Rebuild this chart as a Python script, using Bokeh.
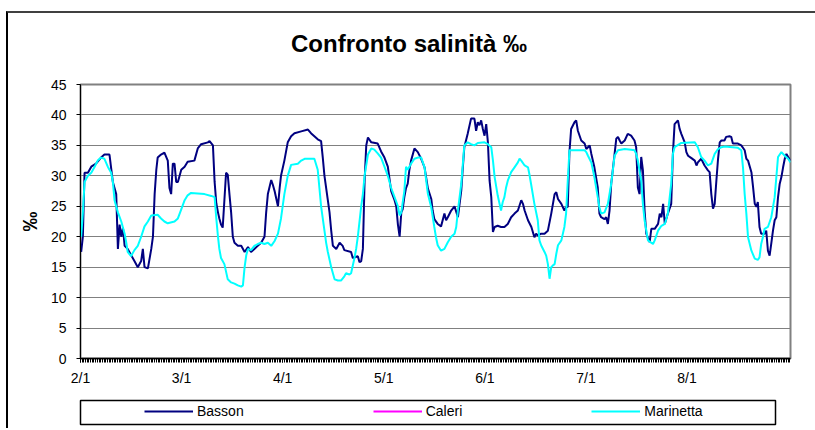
from bokeh.plotting import figure
from bokeh.layouts import column
from bokeh.models import Range1d, FixedTicker, Legend, LegendItem, Div
from bokeh.embed import file_html
from bokeh.resources import INLINE

# ---- data (x = days since 2/1) ----
basson_day = [0.2, 0.7, 1.2, 2.2, 3.2, 4.6, 6.1, 7.1, 8.6, 9.6, 10.6, 11.1, 11.6, 12.1, 12.6, 13.1,
              14.0, 15.0, 16.0, 17.0, 18.0, 18.5, 19.0, 20.0, 21.0, 21.5, 22.0, 22.5, 22.9, 23.9,
              24.9, 25.9, 26.4, 26.9, 27.4, 27.9, 28.4, 28.9, 29.9, 30.9, 31.8, 33.8, 34.8, 35.8,
              37.8, 38.3, 39.3, 39.8, 40.3, 40.8, 41.2, 41.7, 42.2, 42.7, 43.2, 43.7, 44.2, 44.7,
              45.2, 45.7, 46.7, 47.7, 48.7, 49.7, 50.6, 51.6, 52.6, 53.6, 54.6, 55.1, 55.6, 56.6,
              57.1, 57.6, 58.6, 59.1, 59.5, 60.5, 61.5, 62.5, 63.5, 65.5, 67.5, 68.4, 69.4, 70.4,
              71.4, 71.9, 72.4, 73.4, 73.9, 74.4, 74.9, 75.9, 76.9, 77.8, 78.3, 80.3, 80.8, 82.3,
              82.8, 83.3, 83.8, 84.3, 84.8, 85.3, 86.3, 88.2, 89.2, 90.2, 91.2, 92.2, 93.2, 93.7,
              94.2, 94.7, 95.2, 95.6, 96.1, 96.6, 97.1, 97.6, 98.1, 99.1, 100.1, 101.1, 102.1,
              103.1, 104.1, 104.5, 105.0, 106.0, 107.0, 108.0, 108.5, 109.0, 110.0, 111.0, 112.0,
              112.5, 113.0, 113.4, 113.9, 114.9, 115.9, 116.9, 117.4, 117.9, 118.4, 118.9, 119.4,
              119.9, 120.4, 120.9, 121.4, 121.9, 122.4, 122.9, 123.8, 124.8, 125.8, 126.8, 127.8,
              128.8, 129.8, 130.8, 131.3, 131.8, 132.8, 133.8, 134.7, 135.2, 135.7, 136.7, 137.7,
              138.7, 139.7, 140.7, 141.2, 141.7, 142.7, 143.6, 144.1, 144.6, 145.1, 145.6, 146.6,
              147.1, 147.6, 148.6, 149.6, 150.1, 150.6, 151.1, 151.6, 152.5, 153.5, 154.0, 154.5,
              155.5, 156.0, 156.5, 157.0, 157.5, 158.5, 159.0, 159.5, 160.0, 160.5, 161.5, 162.4,
              163.4, 164.4, 164.9, 165.4, 165.9, 166.4, 166.9, 167.4, 167.9, 168.9, 169.4, 170.4,
              171.4, 171.9, 172.4, 172.9, 173.4, 174.3, 175.3, 175.8, 176.3, 177.3, 177.8, 178.3,
              179.3, 179.8, 180.3, 181.3, 182.3, 182.8, 183.2, 184.2, 185.2, 186.2, 186.7, 187.2,
              187.7, 188.2, 188.7, 189.2, 189.7, 190.2, 191.1, 191.6, 192.6, 193.1, 193.6, 195.1,
              196.1, 197.1, 197.6, 198.1, 199.1, 199.6, 200.1, 200.6, 201.0, 201.5, 202.0, 203.0,
              203.5, 204.0, 204.5, 205.0, 205.5, 206.0, 206.5, 207.0, 207.5, 208.0, 208.5, 209.0,
              209.5, 210.0, 210.7]
basson = [17.5, 20.0, 30.5, 30.5, 31.5, 32.0, 33.0, 33.5, 33.5, 29.0, 27.0, 18.0, 22.0, 20.0, 21.5, 18.5,
          18.0, 17.0, 16.0, 15.0, 16.0, 18.0, 15.0, 14.8, 18.0, 20.0, 27.0, 31.0, 33.0, 33.5,
          33.8, 32.5, 28.0, 27.0, 32.0, 32.0, 29.0, 29.0, 31.0, 31.5, 32.3, 32.5, 34.5, 35.2,
          35.5, 35.7, 35.0, 29.0, 25.5, 24.0, 23.0, 22.0, 21.5, 26.0, 30.5, 30.2, 27.0, 24.0,
          20.0, 19.0, 18.5, 18.5, 17.5, 18.3, 17.5, 18.0, 18.5, 19.0, 20.0, 24.0, 27.0, 29.3,
          28.5, 27.5, 25.0, 28.0, 30.0, 32.5, 35.5, 36.5, 37.0, 37.3, 37.6, 37.0, 36.5, 36.0,
          35.7, 33.0, 30.0, 26.0, 24.0, 21.0, 18.5, 18.0, 19.0, 18.5, 17.8, 17.5, 16.5, 16.8,
          15.8, 16.0, 18.0, 29.0, 35.0, 36.3, 35.5, 35.3, 34.0, 33.0, 31.5, 27.5, 26.0, 25.0,
          22.0, 20.0, 24.0, 24.5, 26.5, 28.0, 28.7, 31.0, 32.5, 34.5, 33.9, 32.8, 31.4,
          27.9, 26.2, 24.3, 22.9, 22.1, 21.7, 23.8, 22.7, 23.2, 24.3, 25.0, 23.2,
          25.4, 27.6, 30.9, 34.7, 36.9, 39.4, 39.4, 37.4, 38.8, 38.3, 39.1, 37.7,
          36.6, 38.5, 35.5, 29.2, 26.5, 20.8, 21.6, 21.8, 21.6, 21.6, 22.1, 23.2,
          23.8, 24.3, 26.0, 25.4, 24.3, 22.7, 21.6, 19.9, 20.5, 20.2, 20.5, 20.5,
          21.0, 23.8, 27.0, 27.3, 26.2, 25.4, 24.3, 24.9, 24.9, 33.9, 37.7, 38.8,
          39.1, 37.4, 35.8, 35.3, 34.4, 34.7, 35.0, 33.6, 31.4, 28.1, 23.8, 23.2,
          22.9, 23.2, 22.1, 24.3, 28.7, 33.6, 36.1, 36.4, 35.8, 35.3, 35.8, 36.9,
          36.6, 35.8, 34.7, 28.1, 27.0, 33.1, 30.9, 24.3, 20.5, 19.1, 21.3, 21.3,
          22.1, 23.8, 23.2, 25.4, 22.1, 23.8, 25.4, 33.6, 38.5, 39.1, 37.7, 36.9,
          35.5, 33.9, 33.3, 32.9, 32.5, 31.7, 32.2, 32.8, 31.7, 30.9, 30.6, 27.0,
          24.6, 25.4, 29.2, 32.8, 35.5, 35.8, 35.8, 36.4, 36.5, 36.4, 35.3, 35.3,
          35.0, 34.2, 32.8, 32.5, 30.6, 28.1, 25.4, 24.9, 25.7, 21.6, 20.5, 20.5,
          21.0, 17.7, 16.9, 18.9, 21.0, 22.7, 23.2, 26.5, 28.7, 29.8, 31.4, 32.8,
          33.6, 33.1, 32.5]

# Caleri has no readings in the chart (legend entry only)
caleri_day = [0.0]
caleri = [float("nan")]

marinetta_day = [0.2, 0.7, 1.2, 2.2, 3.2, 4.2, 5.1, 6.1, 7.1, 8.1, 9.1, 9.6, 10.1, 11.1, 12.1, 13.1,
                 13.6, 14.0, 15.0, 16.0, 17.0, 18.0, 19.0, 20.0, 21.0, 22.9, 23.9, 24.9, 25.9, 27.9,
                 28.9, 29.9, 30.9, 31.8, 32.8, 36.8, 38.8, 39.8, 40.3, 40.8, 41.2, 41.7, 42.7, 43.7,
                 44.7, 45.7, 46.7, 47.7, 48.2, 48.7, 49.2, 49.7, 50.6, 51.6, 52.6, 53.6, 54.6, 55.6,
                 56.6, 57.6, 58.6, 59.5, 60.5, 61.5, 62.5, 64.5, 65.5, 66.5, 69.4, 70.4, 70.9, 71.4,
                 72.4, 72.9, 73.4, 74.4, 75.4, 76.4, 77.3, 78.3, 78.8, 79.8, 80.3, 81.3, 81.8, 82.3,
                 83.3, 83.8, 84.3, 85.3, 86.3, 87.2, 88.2, 89.2, 90.2, 91.2, 92.2, 93.2, 94.2, 94.7,
                 95.2, 96.1, 96.6, 97.1, 98.1, 99.1, 100.1, 101.1, 102.1, 103.1, 104.1, 105.0,
                 105.5, 106.0, 107.0, 108.0, 109.0, 110.0, 111.0, 111.5, 112.0, 113.0, 113.9,
                 114.9, 115.9, 116.9, 117.9, 119.9, 120.9, 121.9, 122.4, 122.9, 123.8, 124.8,
                 125.3, 125.8, 126.3, 126.8, 127.8, 128.8, 129.8, 130.3, 130.8, 131.8, 132.8,
                 133.2, 133.7, 134.7, 135.7, 136.2, 136.7, 137.7, 138.2, 138.7, 139.2, 139.7,
                 140.2, 140.7, 141.2, 141.7, 142.7, 143.6, 144.1, 144.6, 145.1, 149.6, 150.1,
                 150.6, 151.6, 152.5, 153.5, 154.0, 154.5, 155.5, 156.5, 157.5, 158.5, 159.5,
                 161.5, 163.4, 164.4, 164.9, 165.4, 166.4, 166.9, 167.4, 168.4, 169.9, 170.4,
                 171.4, 172.4, 173.4, 174.3, 175.3, 175.8, 176.3, 178.3, 182.3, 183.2, 184.2,
                 185.2, 186.2, 187.2, 188.2, 189.2, 190.2, 191.1, 195.1, 196.1, 196.6, 197.1,
                 197.6, 198.1, 199.1, 200.1, 201.0, 201.5, 202.0, 202.5, 203.0, 204.0, 205.0,
                 206.0, 207.0, 208.0, 209.0, 210.0, 210.7]
marinetta = [20.0, 24.0, 29.0, 30.0, 30.5, 31.5, 32.5, 33.0, 32.8, 31.5, 30.5, 29.0, 26.0, 24.0, 22.5, 20.5,
             19.0, 17.5, 16.8, 17.8, 18.5, 20.0, 21.7, 22.5, 23.5, 23.6, 23.0, 22.5, 22.2, 22.5,
             23.0, 24.5, 26.0, 26.8, 27.2, 27.0, 26.7, 26.5, 23.0, 20.0, 18.0, 16.5, 15.5, 13.0,
             12.5, 12.3, 12.0, 11.8, 12.0, 15.0, 17.0, 18.0, 17.8, 18.5, 18.8, 19.0, 18.8, 19.0,
             18.5, 19.3, 20.5, 23.0, 27.0, 30.0, 31.8, 32.0, 32.5, 32.8, 32.8, 31.0, 28.0, 25.0,
             21.0, 19.0, 17.5, 15.0, 13.0, 12.8, 12.8, 13.5, 14.0, 13.8, 14.0, 16.5, 18.0, 20.0,
             25.0, 27.0, 30.0, 33.5, 34.5, 34.3, 33.7, 33.0, 31.5, 30.0, 28.0, 26.5, 25.0, 23.5,
             24.0, 27.5, 31.5, 31.0, 32.0, 32.8, 33.0, 33.0, 31.4, 27.0, 24.8, 21.6,
             19.9, 18.6, 17.7, 18.0, 19.1, 20.0, 20.5, 21.6, 24.3, 28.7, 35.0,
             35.5, 35.2, 35.0, 35.4, 35.5, 35.2, 34.7, 32.5, 29.8, 26.8, 24.3,
             25.7, 26.5, 28.1, 29.2, 30.6, 31.4, 32.2, 32.8, 32.5, 31.7, 31.4,
             30.3, 28.7, 25.4, 22.7, 19.4, 18.6, 17.5, 16.9, 15.5, 13.1, 15.0,
             15.3, 15.5, 17.2, 18.6, 19.4, 21.6, 23.8, 29.2, 34.2, 34.2, 33.9,
             33.3, 32.2, 29.8, 26.5, 24.8, 23.8, 24.0, 25.4, 28.7, 33.3, 34.2,
             34.4, 34.3, 34.2, 33.6, 32.5, 29.2, 25.4, 22.7, 19.4, 18.8, 19.4,
             21.0, 21.8, 22.1, 23.8, 28.7, 33.6, 34.7, 35.4, 35.5, 34.7, 33.1,
             32.5, 31.7, 32.0, 33.6, 34.4, 34.7, 34.8, 34.6, 34.2, 31.4, 27.0,
             23.8, 19.9, 17.7, 16.4, 16.2, 16.6, 18.8, 19.9, 21.3, 21.6, 23.2,
             26.5, 33.1, 33.9, 33.3, 32.8, 32.2]

series_names = ["Basson", "Caleri", "Marinetta"]
series_colors = ["#000080", "#FF00FF", "#00FFFF"]

tick_days = [0, 30, 60, 90, 120, 150, 180]
tick_labels = ["2/1", "3/1", "4/1", "5/1", "6/1", "7/1", "8/1"]
y_ticks = [0, 5, 10, 15, 20, 25, 30, 35, 40, 45]
title_text = "Confronto salinità ‰"

FONT = "Liberation Sans"

# ---------------- title ----------------
title_div = Div(text=('<div style="width:802px;text-align:center;font-family:\'Liberation Sans\';'
                      'font-size:24px;font-weight:bold;line-height:29px;padding-top:16px;'
                      'color:black;">' + title_text + '</div>'),
                width=807, height=50, margin=0)

# ---------------- main chart ----------------
p = figure(title=None, frame_width=710, frame_height=274, output_backend="svg", toolbar_location=None,
           x_range=Range1d(0, 210.7), y_range=Range1d(0, 45),
           min_border_left=68, min_border_right=10, min_border_top=21, min_border_bottom=36,
           background_fill_color="white", border_fill_color="white")

p.outline_line_color = "#808080"
p.outline_line_width = 2

p.xgrid.visible = False
p.ygrid.grid_line_color = "#808080"
p.ygrid.grid_line_width = 1
p.ygrid.ticker = FixedTicker(ticks=y_ticks)

p.yaxis.ticker = FixedTicker(ticks=y_ticks)
p.yaxis.axis_label = "‰"
p.yaxis.axis_label_text_font = FONT
p.yaxis.axis_label_text_font_size = "20px"
p.yaxis.axis_label_text_font_style = "bold"
p.yaxis.axis_label_text_color = "black"
p.yaxis.axis_label_standoff = 7
p.yaxis.major_label_text_font = FONT
p.yaxis.major_label_text_font_size = "14px"
p.yaxis.major_label_text_color = "black"
p.yaxis.major_tick_out = 4
p.yaxis.major_tick_in = 0
p.yaxis.minor_tick_out = 0
p.yaxis.minor_tick_in = 0
p.yaxis.major_label_standoff = 10
p.yaxis.axis_line_color = "black"
p.yaxis.major_tick_line_color = "black"

minor = [i * 0.5 for i in range(0, 422)]
p.xaxis.ticker = FixedTicker(ticks=tick_days, minor_ticks=minor)
p.xaxis.major_label_overrides = {d: lab for d, lab in zip(tick_days, tick_labels)}
p.xaxis.major_label_text_font = FONT
p.xaxis.major_label_text_font_size = "14px"
p.xaxis.major_label_text_color = "black"
p.xaxis.major_tick_out = 4
p.xaxis.major_tick_in = 0
p.xaxis.minor_tick_out = 4
p.xaxis.minor_tick_in = 0
p.xaxis.minor_tick_line_color = "black"
p.xaxis.major_tick_line_color = "black"
p.xaxis.axis_line_color = "black"
p.xaxis.axis_line_width = 1.5
p.xaxis.major_label_standoff = 7

p.line(basson_day, basson, line_color=series_colors[0], line_width=2)
p.line(caleri_day, caleri, line_color=series_colors[1], line_width=2)
p.line(marinetta_day, marinetta, line_color=series_colors[2], line_width=2)

# ---------------- legend strip ----------------
lg = figure(width=797, height=34, output_backend="svg", toolbar_location=None,
            x_range=Range1d(0, 1), y_range=Range1d(0, 1),
            min_border_left=72, min_border_right=30, min_border_top=6, min_border_bottom=4,
            background_fill_color="white", border_fill_color="white")
lg.axis.visible = False
lg.grid.visible = False
lg.outline_line_color = "black"
lg.outline_line_width = 1.5

items = []
for name, col in zip(series_names, series_colors):
    r = lg.line([0.0], [float("nan")], line_color=col, line_width=2)
    items.append(LegendItem(label=name, renderers=[r]))

legend = Legend(items=items, orientation="horizontal", location=(61, 2),
                glyph_width=49, glyph_height=14, label_height=14, label_standoff=4,
                spacing=129, padding=3, margin=0,
                label_text_font=FONT, label_text_font_size="14px", label_text_color="black",
                border_line_alpha=0, background_fill_alpha=0)
lg.add_layout(legend)

root = column(title_div, p, lg, spacing=0,
              styles={"margin-left": "6px", "margin-top": "11px",
                      "border-left": "2px solid #000000",
                      "border-top": "2px solid #404040"})

open("out.html", "w").write(file_html(root, INLINE))
